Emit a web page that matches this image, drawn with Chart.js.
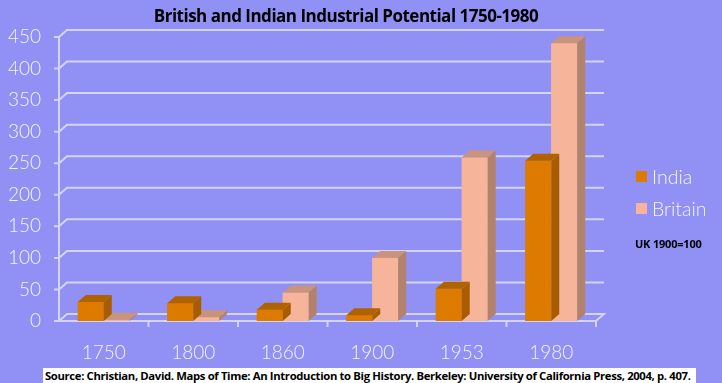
<!DOCTYPE html>
<html>
<head>
<meta charset="utf-8">
<script src="https://cdn.jsdelivr.net/npm/chart.js@4/dist/chart.umd.min.js"></script>
<style>
  html, body { margin: 0; padding: 0; background: #9191F5; }
  #wrap { position: relative; width: 722px; height: 383px; overflow: hidden; background: #9191F5; }
  canvas { position: absolute; left: 0; top: 0; }
  .txt { position: absolute; white-space: nowrap; }
  #title { left: 0; width: 692px; top: 4px; text-align: center; font: bold 17px "Open Sans", "Noto Sans", sans-serif; letter-spacing: -0.5px; color: #000; }
  .leg { position: absolute; left: 636px; font: 300 19.5px Lato, "Open Sans", sans-serif; color: #F4F4FF; }
  .leg span.sw { position: absolute; left: 0; top: 6px; width: 11px; height: 11px; }
  .leg span.lb { position: absolute; left: 16px; top: 0; }
  #note { left: 635px; top: 236px; font: bold 11px "Open Sans", sans-serif; letter-spacing: -0.2px; color: #000; }
  #src { left: 43px; top: 368px; width: 653px; height: 15px; background: #fff; font: bold 11.3px "Open Sans", sans-serif; letter-spacing: -0.35px; color: #000; line-height: 15px; padding-left: 2px; box-sizing: border-box; overflow: hidden; }
</style>
</head>
<body>
<div id="wrap">
  <canvas id="c" width="722" height="383"></canvas>
  <div id="title" class="txt">British and Indian Industrial Potential 1750-1980</div>
  <div class="leg" style="top:165px"><span class="sw" style="background:#DD7B00"></span><span class="lb">India</span></div>
  <div class="leg" style="top:197px"><span class="sw" style="background:#F6B59A"></span><span class="lb">Britain</span></div>
  <div id="note" class="txt">UK 1900=100</div>
  <div id="src" class="txt">Source: Christian, David. Maps of Time: An Introduction to Big History. Berkeley: University of California Press, 2004, p. 407.</div>
</div>
<script>
const years = ["1750", "1800", "1860", "1900", "1953", "1980"];
const india = [30, 28, 18, 9, 51, 254];
const britain = [2, 6, 45, 100, 259, 440];
const yTicks = [0, 50, 100, 150, 200, 250, 300, 350, 400, 450];

const DX = 8, DY = 7;
const faces = [
  { front: '#DD7B00', top: '#B06200', side: '#A85C00' },
  { front: '#F6B59A', top: '#C9937C', side: '#B2826C' }
];

const threeD = {
  id: 'threeD',
  beforeDatasetsDraw(chart) {
    const ctx = chart.ctx;
    const a = chart.chartArea;
    const y = chart.scales.y;
    ctx.save();
    ctx.strokeStyle = '#D4D4F0';
    ctx.lineWidth = 2;
    ctx.beginPath();
    ctx.moveTo(a.left, y.getPixelForValue(0));
    ctx.lineTo(a.left, y.getPixelForValue(450));
    ctx.stroke();
    yTicks.forEach(v => {
      const py = y.getPixelForValue(v);
      ctx.beginPath();
      ctx.moveTo(a.left - 5, py);
      ctx.lineTo(a.left, py);
      ctx.lineTo(a.left + DX, py - DY);
      ctx.lineTo(a.right + DX, py - DY);
      if (v === 0) {
        ctx.lineTo(a.right, py);
        ctx.lineTo(a.left, py);
      }
      ctx.stroke();
    });
    const n = years.length;
    const w = (a.right - a.left) / n;
    for (let i = 1; i <= n; i++) {
      const px = a.left + i * w;
      ctx.beginPath();
      ctx.moveTo(px, y.getPixelForValue(0));
      ctx.lineTo(px, y.getPixelForValue(0) + 6);
      ctx.stroke();
    }
    ctx.restore();
  },
  afterDatasetDraw(chart, args) {
    const ctx = chart.ctx;
    const f = faces[args.index];
    ctx.save();
    args.meta.data.forEach(bar => {
      const p = bar.getProps(['x', 'y', 'base', 'width'], true);
      const l = p.x - p.width / 2, r = p.x + p.width / 2, t = p.y, b = p.base;
      ctx.fillStyle = f.front;
      ctx.fillRect(l, t, r - l, b - t);
      ctx.fillStyle = f.top;
      ctx.beginPath();
      ctx.moveTo(l, t); ctx.lineTo(l + DX, t - DY); ctx.lineTo(r + DX, t - DY); ctx.lineTo(r, t); ctx.closePath();
      ctx.fill();
      ctx.fillStyle = f.side;
      ctx.beginPath();
      ctx.moveTo(r, t); ctx.lineTo(r + DX, t - DY); ctx.lineTo(r + DX, b - DY); ctx.lineTo(r, b); ctx.closePath();
      ctx.fill();
    });
    ctx.restore();
  }
};

new Chart(document.getElementById('c'), {
  type: 'bar',
  data: {
    labels: years,
    datasets: [
      { label: 'India', data: india, backgroundColor: faces[0].front, borderWidth: 0 },
      { label: 'Britain', data: britain, backgroundColor: faces[1].front, borderWidth: 0 }
    ]
  },
  options: {
    responsive: false,
    animation: false,
    devicePixelRatio: 1,
    layout: { padding: { top: 37, right: 126, left: 0, bottom: 0 } },
    plugins: { legend: { display: false }, title: { display: false }, tooltip: { enabled: false } },
    datasets: { bar: { categoryPercentage: 0.58, barPercentage: 1 } },
    scales: {
      x: {
        grid: { display: false }, border: { display: false },
        ticks: { color: '#F4F4FF', font: { family: 'Lato', weight: '300', size: 19 }, padding: 12, maxRotation: 0 },
        afterFit(s) { s.height = 62; }
      },
      y: {
        min: 0, max: 450,
        grid: { display: false }, border: { display: false },
        afterBuildTicks(s) { s.ticks = yTicks.map(v => ({ value: v })); },
        ticks: { color: '#F4F4FF', font: { family: 'Lato', weight: '300', size: 19 }, padding: 10 },
        afterFit(s) { s.width = 59; }
      }
    }
  },
  plugins: [threeD]
});
</script>
</body>
</html>
